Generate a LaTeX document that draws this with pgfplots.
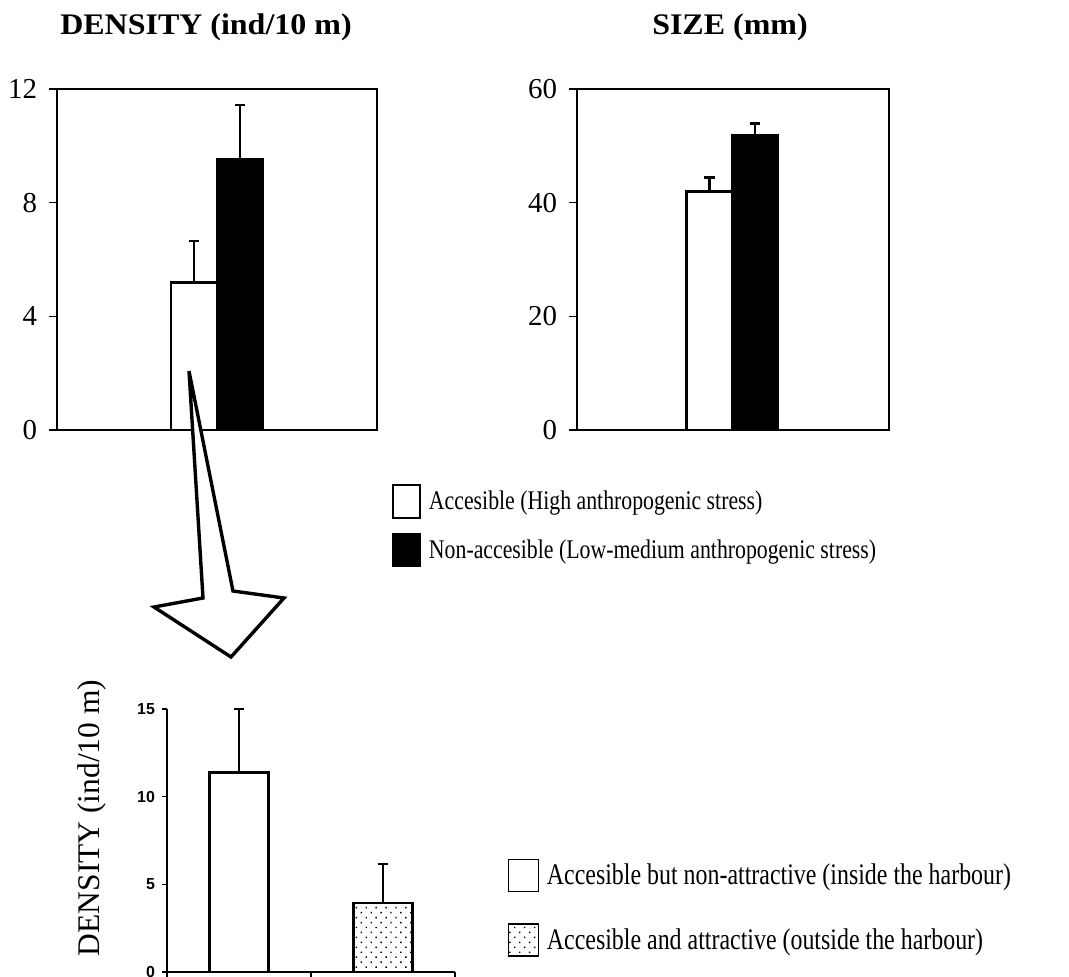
\documentclass[border=0pt]{standalone}
\usepackage{fontspec}
\setmainfont{Liberation Serif}
\setsansfont{Liberation Sans}
\newfontfamily\titlefont[FakeStretch=1.07]{Liberation Serif}
\newfontfamily\legAfont[FakeStretch=0.81]{Liberation Serif}
\newfontfamily\legBfont[FakeStretch=0.8]{Liberation Serif}
\usepackage{pgfplots}
\pgfplotsset{compat=1.18}
\usetikzlibrary{patterns.meta}

\pgfplotsset{
  topaxis/.style={anchor=south west, scale only axis, height=170.5bp, ymin=0,
    xtick=\empty, ytick pos=left, tick align=outside, major tick length=4bp,
    axis line style={line width=0.6bp}, every tick/.style={line width=0.6bp, black},
    /pgf/number format/assume math mode=true,
    yticklabel style={font=\fontsize{14.5}{15}\selectfont, xshift=-2.5bp}, clip=false},
  mybar/.style={ybar, draw=black, line width=#1,
    error bars/y dir=plus, error bars/y explicit,
    error bars/error bar style={line width=#1},
    error bars/error mark options={rotate=90, mark size=2.6bp, line width=#1}},
  legA/.style={legend image code/.code={\draw[##1, line width=0.8bp] (0bp,-8.25bp) rectangle (13.5bp,8.25bp);}},
  legB/.style={legend image code/.code={\draw[##1, line width=0.9bp] (0bp,-8bp) rectangle (15bp,8bp);}},
}

\begin{document}
\begin{tikzpicture}[x=0.5bp,y=-0.5bp]
\path[use as bounding box] (0,0) rectangle (1069,977);

\node[font=\titlefont\bfseries\fontsize{15}{16}\selectfont, anchor=base] at (206,34) {DENSITY (ind/10 m)};
\node[font=\titlefont\bfseries\fontsize{15}{16}\selectfont, anchor=base] at (730,34) {SIZE (mm)};

% top-left: density
\begin{axis}[topaxis, at={(28.5bp,-215bp)}, width=160bp, xmin=0, xmax=320, ymax=12, ytick={0,4,8,12}]
\addplot[mybar=1.4bp, bar width=46, fill=white] coordinates {(137,5.2) +- (0,1.45)};
\addplot[mybar=1.4bp, bar width=46, fill=black] coordinates {(183,9.54) +- (0,1.9)};
\end{axis}

% top-right: size
\begin{axis}[topaxis, at={(288.5bp,-215bp)}, width=156bp, xmin=0, xmax=312, ymax=60, ytick={0,20,40,60},
  legend style={at={(-0.593,-0.158)}, anchor=north west, draw=none, fill=none,
    font=\legAfont\fontsize{13.5}{14}\selectfont, row sep=7bp, inner sep=0pt,
    cells={anchor=west}, nodes={inner xsep=4bp}}]
\addplot[mybar=1.4bp, bar width=46, fill=white, legA] coordinates {(132.5,41.9) +- (0,2.6)};
\addlegendentry{Accesible (High anthropogenic stress)}
\addplot[mybar=1.4bp, bar width=46, fill=black, legA] coordinates {(178,51.9) +- (0,2.1)};
\addlegendentry{Non-accesible (Low-medium anthropogenic stress)}
\end{axis}

% bottom: density inside/outside harbour
\begin{axis}[anchor=south west, at={(83.5bp,-486bp)}, scale only axis, width=144bp, height=131.5bp,
  xmin=0, xmax=2, ymin=0, ymax=15, axis x line=bottom, axis y line=left,
  axis line style={-, line width=0.7bp}, every tick/.style={line width=0.7bp, black},
  xtick={0,1,2}, xticklabels={,,}, ytick={0,5,10,15}, tick align=outside, major tick length=2.5bp,
  /pgf/number format/assume math mode=true,
  yticklabel style={font=\sffamily\bfseries\fontsize{8}{9}\selectfont},
  ylabel={DENSITY (ind/10 m)},
  ylabel style={at={(axis description cs:-0.26,0.586)}, anchor=center, font=\fontsize{15.8}{16}\selectfont},
  legend style={at={(1.181,0.433)}, anchor=north west, draw=none, fill=none,
    font=\legBfont\fontsize{15}{16}\selectfont, row sep=15.5bp, inner sep=0pt,
    cells={anchor=west}, nodes={inner xsep=3.8bp}},
  clip=false]
\addplot[mybar=1.2bp, bar width=0.41, fill=white, legB] coordinates {(0.5,11.37) +- (0,3.63)};
\addlegendentry{Accesible but non-attractive (inside the harbour)}
\addplot[mybar=1.2bp, bar width=0.41, fill=white, postaction={pattern={Dots[distance=3.5bp, angle=45, radius=0.5bp]}}, legB] coordinates {(1.5,3.94) +- (0,2.23)};
\addlegendentry{Accesible and attractive (outside the harbour)}
\end{axis}

% arrow
\draw[line width=1.7bp, fill=white, line join=miter] (189,371) -- (203,598) -- (154,607) -- (231,657) -- (284,598) -- (233,591) -- cycle;
\end{tikzpicture}
\end{document}
